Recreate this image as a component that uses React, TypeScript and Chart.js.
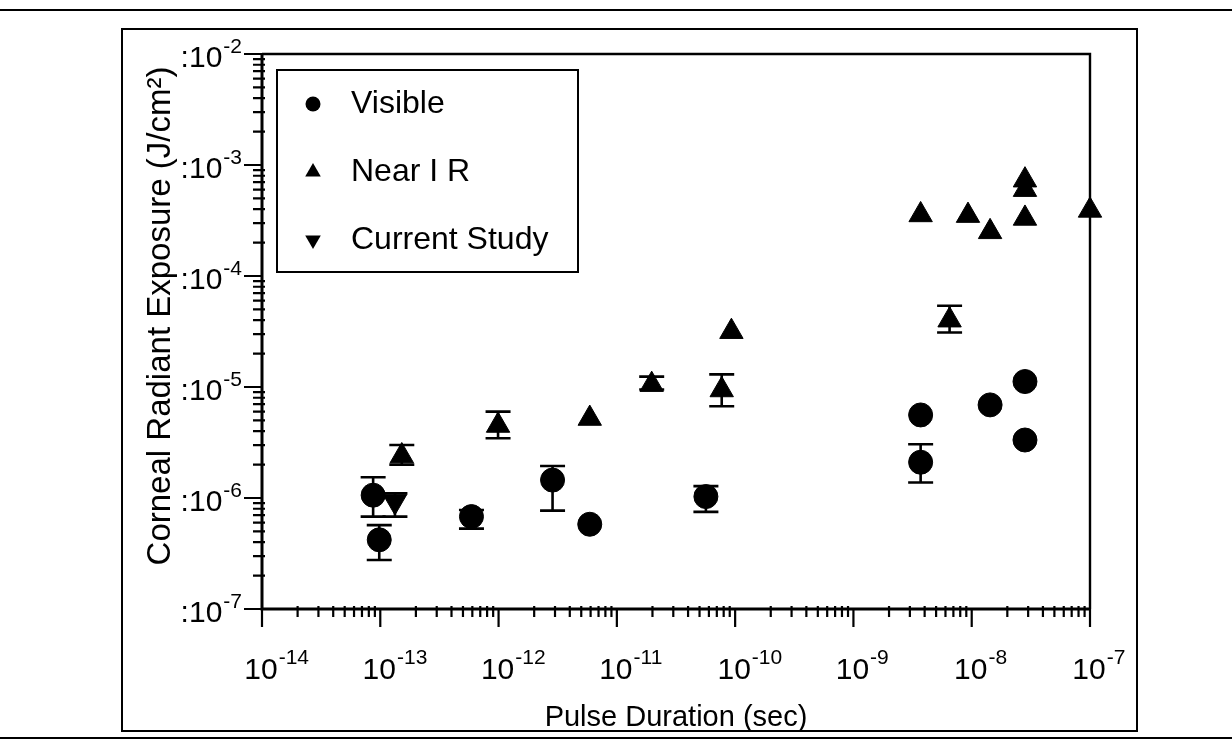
import React, { useEffect, useRef } from "react";
import { Chart, registerables } from "chart.js";

Chart.register(...registerables);

const FONT = '"Liberation Sans", Arial, Helvetica, sans-serif';

// ---- data ----
const visibleX = [8.7e-14, 9.8e-14, 5.9e-13, 2.86e-12, 5.9e-12, 5.66e-11, 3.7e-9, 3.7e-9, 1.43e-8, 2.82e-8, 2.82e-8];
const visibleY = [1.06e-6, 4.2e-7, 6.8e-7, 1.45e-6, 5.8e-7, 1.03e-6, 5.6e-6, 2.1e-6, 6.9e-6, 1.12e-5, 3.33e-6];
const visibleErrLow = [6.8e-7, 2.76e-7, 5.3e-7, 7.7e-7, null, 7.5e-7, null, 1.38e-6, null, null, null];
const visibleErrHigh = [1.54e-6, 5.7e-7, 7.8e-7, 1.94e-6, null, 1.28e-6, null, 3.05e-6, null, null, null];

const nearIrX = [1.52e-13, 9.9e-13, 5.9e-12, 1.97e-11, 9.3e-11, 7.7e-11, 6.5e-9, 3.7e-9, 9.3e-9, 1.43e-8, 2.82e-8, 2.82e-8, 2.82e-8, 1.0e-7];
const nearIrY = [2.39e-6, 4.5e-6, 5.2e-6, 1.05e-5, 3.15e-5, 9.4e-6, 4.0e-5, 3.55e-4, 3.5e-4, 2.5e-4, 3.3e-4, 6.0e-4, 7.3e-4, 3.9e-4];
const nearIrErrLow = [2.0e-6, 3.45e-6, null, 9.5e-6, null, 6.7e-6, 3.1e-5, null, null, null, null, null, null, null];
const nearIrErrHigh = [3.0e-6, 6.0e-6, null, 1.24e-5, null, 1.3e-5, 5.4e-5, null, null, null, null, null, null, null];

const currentX = [1.33e-13];
const currentY = [9.3e-7];
const currentErrLow = [6.8e-7];
const currentErrHigh = [1.1e-6];

const xTickExps = [-14, -13, -12, -11, -10, -9, -8, -7];
const yTickExps = [-7, -6, -5, -4, -3, -2];
const xTitle = "Pulse Duration (sec)";
const yTitle = "Corneal Radiant Exposure (J/cm²)";
const legendLabels = ["Visible", "Near I R", "Current Study"];

function toPoints(xs: number[], ys: number[]) {
  return xs.map((x, i) => ({ x, y: ys[i] }));
}

export default function App() {
  const ref = useRef<HTMLCanvasElement>(null);

  useEffect(() => {
    const canvas = ref.current;
    if (!canvas) return;

    const errorSets = [
      { xs: visibleX, lo: visibleErrLow, hi: visibleErrHigh },
      { xs: nearIrX, lo: nearIrErrLow, hi: nearIrErrHigh },
      { xs: currentX, lo: currentErrLow, hi: currentErrHigh },
    ];

    const plugin = {
      id: "sciPlot",
      beforeDraw(chart: any) {
        const ctx = chart.ctx;
        ctx.save();
        ctx.fillStyle = "#fff";
        ctx.fillRect(0, 0, chart.width, chart.height);
        ctx.restore();
      },
      beforeDatasetsDraw(chart: any) {
        const ctx = chart.ctx;
        const xs = chart.scales.x;
        const ys = chart.scales.y;
        ctx.save();
        ctx.strokeStyle = "#000";
        ctx.lineWidth = 2.6;
        const capHalf = 12.5;
        errorSets.forEach((s) => {
          s.xs.forEach((xv, i) => {
            const lo = s.lo[i];
            const hi = s.hi[i];
            if (lo == null || hi == null) return;
            const px = xs.getPixelForValue(xv);
            const pl = ys.getPixelForValue(lo);
            const ph = ys.getPixelForValue(hi);
            ctx.beginPath();
            ctx.moveTo(px, pl);
            ctx.lineTo(px, ph);
            ctx.moveTo(px - capHalf, pl);
            ctx.lineTo(px + capHalf, pl);
            ctx.moveTo(px - capHalf, ph);
            ctx.lineTo(px + capHalf, ph);
            ctx.stroke();
          });
        });
        ctx.restore();
      },
      afterDraw(chart: any) {
        const ctx = chart.ctx;
        const xs = chart.scales.x;
        const ys = chart.scales.y;
        const { left, right, top, bottom } = chart.chartArea;
        ctx.save();
        ctx.strokeStyle = "#000";
        ctx.fillStyle = "#000";

        // outer frame and scan lines
        ctx.lineWidth = 2;
        ctx.strokeRect(122, 29, 1137 - 122, 731 - 29);
        ctx.beginPath();
        ctx.moveTo(0, 10);
        ctx.lineTo(1232, 10);
        ctx.moveTo(0, 738);
        ctx.lineTo(1232, 738);
        ctx.stroke();

        // axes + frame
        ctx.lineWidth = 3;
        ctx.beginPath();
        ctx.moveTo(left, top);
        ctx.lineTo(left, bottom);
        ctx.lineTo(right, bottom);
        ctx.stroke();
        ctx.lineWidth = 2.4;
        ctx.beginPath();
        ctx.moveTo(left, top);
        ctx.lineTo(right, top);
        ctx.lineTo(right, bottom);
        ctx.stroke();

        // x ticks
        ctx.lineWidth = 2.2;
        ctx.beginPath();
        for (let e = -14; e <= -7; e++) {
          const px = xs.getPixelForValue(Math.pow(10, e));
          ctx.moveTo(px, bottom);
          ctx.lineTo(px, bottom + 18);
          if (e < -7) {
            for (let m = 2; m <= 9; m++) {
              const pm = xs.getPixelForValue(m * Math.pow(10, e));
              ctx.moveTo(pm, bottom - 3);
              ctx.lineTo(pm, bottom + 8);
            }
          }
        }
        // y ticks
        for (let e = -7; e <= -2; e++) {
          const py = ys.getPixelForValue(Math.pow(10, e));
          ctx.moveTo(left - 18, py);
          ctx.lineTo(left, py);
          if (e < -2) {
            for (let m = 2; m <= 9; m++) {
              const pm = ys.getPixelForValue(m * Math.pow(10, e));
              ctx.moveTo(left - 9, pm);
              ctx.lineTo(left + 3, pm);
            }
          }
        }
        ctx.stroke();

        const mainFont = `30px ${FONT}`;
        const supFont = `21px ${FONT}`;

        // x tick labels
        ctx.textBaseline = "alphabetic";
        ctx.textAlign = "left";
        xTickExps.forEach((e) => {
          const px = xs.getPixelForValue(Math.pow(10, e));
          ctx.font = mainFont;
          const w1 = ctx.measureText("10").width;
          const x0 = px - w1 / 2 - 1;
          ctx.fillText("10", x0, 679);
          ctx.font = supFont;
          ctx.fillText(String(e), x0 + w1 + 1, 664);
        });

        // y tick labels
        yTickExps.forEach((e) => {
          const py = ys.getPixelForValue(Math.pow(10, e));
          ctx.font = supFont;
          const sup = String(e);
          const w2 = ctx.measureText(sup).width;
          ctx.font = mainFont;
          const base = ":10";
          const w1 = ctx.measureText(base).width;
          const xEnd = 242;
          ctx.fillText(base, xEnd - w2 - 1 - w1, py + 13);
          ctx.font = supFont;
          ctx.fillText(sup, xEnd - w2, py - 1);
        });

        // axis titles
        ctx.font = `29px ${FONT}`;
        ctx.textAlign = "center";
        ctx.textBaseline = "middle";
        ctx.fillText(xTitle, (left + right) / 2, 718);
        ctx.save();
        ctx.translate(161, 316);
        ctx.rotate(-Math.PI / 2);
        ctx.font = `33px ${FONT}`;
        ctx.fillText(yTitle, 0, 0);
        ctx.restore();

        // legend
        ctx.lineWidth = 2;
        ctx.strokeRect(277, 70, 301, 202);
        const rows = [104, 172, 240];
        ctx.beginPath();
        ctx.arc(313, rows[0], 7.5, 0, Math.PI * 2);
        ctx.fill();
        const r = 9;
        ctx.beginPath();
        ctx.moveTo(313, rows[1] - r);
        ctx.lineTo(313 + 0.866 * r, rows[1] + 0.5 * r);
        ctx.lineTo(313 - 0.866 * r, rows[1] + 0.5 * r);
        ctx.closePath();
        ctx.fill();
        ctx.beginPath();
        ctx.moveTo(313, rows[2] + r);
        ctx.lineTo(313 + 0.866 * r, rows[2] - 0.5 * r);
        ctx.lineTo(313 - 0.866 * r, rows[2] - 0.5 * r);
        ctx.closePath();
        ctx.fill();
        ctx.font = `32px ${FONT}`;
        ctx.textAlign = "left";
        ctx.textBaseline = "middle";
        legendLabels.forEach((t, i) => ctx.fillText(t, 351, rows[i]));

        ctx.restore();
      },
    };

    const chart = new Chart(canvas, {
      type: "scatter",
      data: {
        datasets: [
          {
            label: legendLabels[0],
            data: toPoints(visibleX, visibleY),
            pointStyle: "circle",
            pointRadius: 12,
            backgroundColor: "#000",
            borderColor: "#000",
            borderWidth: 1,
            clip: false,
          },
          {
            label: legendLabels[1],
            data: toPoints(nearIrX, nearIrY),
            pointStyle: "triangle",
            pointRadius: 13.5,
            backgroundColor: "#000",
            borderColor: "#000",
            borderWidth: 1,
            clip: false,
          },
          {
            label: legendLabels[2],
            data: toPoints(currentX, currentY),
            pointStyle: "triangle",
            pointRotation: 180,
            pointRadius: 13.5,
            backgroundColor: "#000",
            borderColor: "#000",
            borderWidth: 1,
            clip: false,
          },
        ],
      } as any,
      options: {
        animation: false,
        responsive: false,
        devicePixelRatio: 1,
        events: [],
        layout: { padding: { left: 262, right: 142, top: 54, bottom: 133 } },
        scales: {
          x: { type: "logarithmic", min: 1e-14, max: 1e-7, display: false },
          y: { type: "logarithmic", min: 1e-7, max: 1e-2, display: false },
        },
        plugins: { legend: { display: false }, tooltip: { enabled: false } },
      } as any,
      plugins: [plugin],
    });

    return () => chart.destroy();
  }, []);

  return (
    <div style={{ position: "fixed", left: 0, top: 0, width: 1232, height: 742, background: "#fff" }}>
      <canvas ref={ref} width={1232} height={742} style={{ display: "block" }} />
    </div>
  );
}
